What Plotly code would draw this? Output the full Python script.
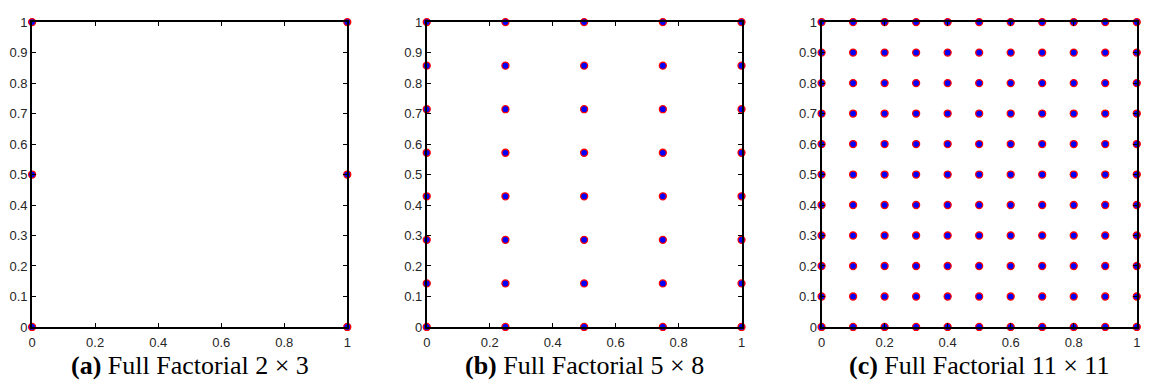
import itertools
import plotly.graph_objects as go

# Factor levels for each design
a_x_levels = [0, 1]
a_y_levels = [0, 0.5, 1]
b_x_levels = [0, 0.25, 0.5, 0.75, 1]
b_y_levels = [0, 0.1429, 0.2857, 0.4286, 0.5714, 0.7143, 0.8571, 1]
c_x_levels = [0, 0.1, 0.2, 0.3, 0.4, 0.5, 0.6, 0.7, 0.8, 0.9, 1]
c_y_levels = [0, 0.1, 0.2, 0.3, 0.4, 0.5, 0.6, 0.7, 0.8, 0.9, 1]

captions = ["<b>(a)</b> Full Factorial 2 × 3",
            "<b>(b)</b> Full Factorial 5 × 8",
            "<b>(c)</b> Full Factorial 11 × 11"]

x_ticks = [0, 0.2, 0.4, 0.6, 0.8, 1]
x_ticklabels = ["0", "0.2", "0.4", "0.6", "0.8", "1"]
y_ticks = [0, 0.1, 0.2, 0.3, 0.4, 0.5, 0.6, 0.7, 0.8, 0.9, 1]
y_ticklabels = ["0", "0.1", "0.2", "0.3", "0.4", "0.5", "0.6", "0.7", "0.8", "0.9", "1"]

W, H = 1150, 392
panels_px = [(28.3, 345.7), (425.7, 742.7), (823.3, 1140.7)]
y_bottom_px, y_top_px = 332.7, 15.7

fig = go.Figure()
designs = [(a_x_levels, a_y_levels), (b_x_levels, b_y_levels), (c_x_levels, c_y_levels)]
for i, ((xl, yl), (x0, x1), cap) in enumerate(zip(designs, panels_px, captions)):
    pts = list(itertools.product(xl, yl))
    xs = [p[0] for p in pts]
    ys = [p[1] for p in pts]
    suffix = "" if i == 0 else str(i + 1)
    fig.add_trace(go.Scatter(
        x=xs, y=ys, mode="markers",
        marker=dict(size=7, color="#0000ff", line=dict(color="#ff0000", width=1.3)),
        xaxis="x" + suffix, yaxis="y" + suffix, cliponaxis=False, showlegend=False,
        hoverinfo="x+y"))
    axis_common = dict(
        showgrid=False, zeroline=False, showline=True, linecolor="black", linewidth=1.8,
        mirror="allticks", ticks="inside", ticklen=4, tickwidth=1, tickcolor="black",
        tickfont=dict(family="Liberation Sans", size=13, color="#262626"),
        fixedrange=True)
    fig.update_layout(**{
        "xaxis" + suffix: dict(domain=[x0 / W, x1 / W], range=[0, 1],
                               tickvals=x_ticks, ticktext=x_ticklabels,
                               anchor="y" + suffix, ticklabelstandoff=3, **axis_common),
        "yaxis" + suffix: dict(domain=[(H - y_bottom_px) / H, (H - y_top_px) / H], range=[0, 1],
                               tickvals=y_ticks, ticktext=y_ticklabels,
                               anchor="x" + suffix, ticklabelstandoff=0, **axis_common),
    })
    fig.add_annotation(
        x=(x0 + x1) / 2 / W, y=(H - 373) / H, xref="paper", yref="paper",
        text=cap, showarrow=False, xanchor="center", yanchor="middle",
        font=dict(family="Liberation Serif", size=26, color="black"))

fig.update_layout(width=W, height=H, margin=dict(l=0, r=0, t=0, b=0),
                  paper_bgcolor="white", plot_bgcolor="white")
fig.write_html("out.html")
